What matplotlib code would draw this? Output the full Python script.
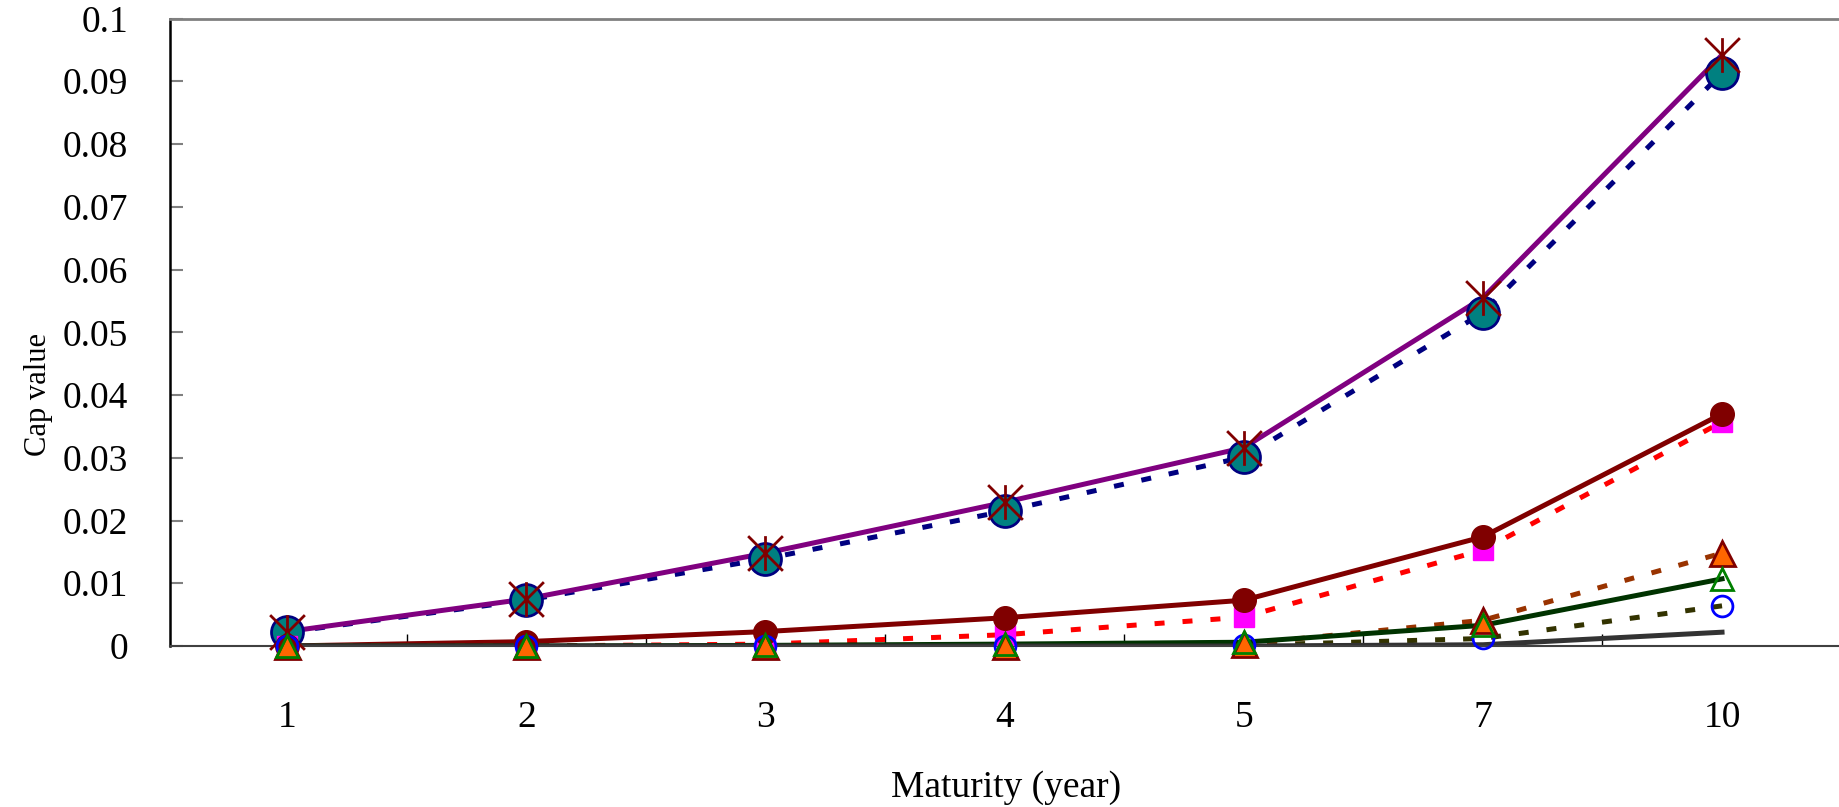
import matplotlib
matplotlib.use('Agg')
import matplotlib.pyplot as plt
import numpy as np
from matplotlib.path import Path

plt.rcParams.update({'font.family': 'Liberation Serif', 'font.size': 27})

# maturities (years) shown as evenly spaced categories
maturity = ['1', '2', '3', '4', '5', '7', '10']
yticks = [0, 0.01, 0.02, 0.03, 0.04, 0.05, 0.06, 0.07, 0.08, 0.09, 0.1]
ytick_labels = ['0', '0.01', '0.02', '0.03', '0.04', '0.05', '0.06', '0.07', '0.08', '0.09', '0.1']

cap_star = [0.0023, 0.0075, 0.0148, 0.0229, 0.0316, 0.0555, 0.0942]
cap_teal = [0.0022, 0.0073, 0.0139, 0.0215, 0.0301, 0.0531, 0.0913]
cap_dred = [0.0000, 0.0007, 0.0023, 0.0045, 0.0073, 0.0174, 0.0370]
cap_red = [0.0000, 0.0000, 0.0003, 0.0018, 0.0046, 0.0153, 0.0357]
cap_orange = [0.0000, 0.0000, 0.0000, 0.0000, 0.0003, 0.0041, 0.0148]
cap_green = [0.0000, 0.0000, 0.0001, 0.0003, 0.0006, 0.0033, 0.0107]
cap_blue = [0.0000, 0.0000, 0.0000, 0.0000, 0.0001, 0.0012, 0.0064]
cap_gray = [0.0000, 0.0000, 0.0000, 0.0000, 0.0000, 0.0002, 0.0022]

x = np.arange(len(maturity))

# X with a vertical bar through it
star = Path([(-1, -1), (1, 1), (-1, 1), (1, -1), (0, -1), (0, 1)],
            [Path.MOVETO, Path.LINETO, Path.MOVETO, Path.LINETO, Path.MOVETO, Path.LINETO])

fig = plt.figure(figsize=(18.39, 8.07), dpi=100)
ax = fig.add_axes([170 / 1839, 1 - 646 / 807, 1671.6 / 1839, 627.5 / 807])

dash = dict(ls=(0, (2.0, 3.6)), dash_capstyle='butt')
lw = 3.6
ax.plot(x, cap_teal, color='#000080', lw=lw, **dash, zorder=2)
ax.plot(x, cap_star, color='#800080', lw=lw, zorder=2)
ax.plot(x, cap_red, color='#FF0000', lw=lw, **dash, zorder=2)
ax.plot(x, cap_dred, color='#800000', lw=lw, zorder=2)
ax.plot(x, cap_blue, color='#333300', lw=lw, **dash, zorder=2)
ax.plot(x, cap_orange, color='#993300', lw=lw, **dash, zorder=2)
ax.plot(x, cap_green, color='#003300', lw=lw, zorder=2)
ax.plot(x, cap_gray, color='#333333', lw=lw, zorder=2)

ax.plot(x, cap_teal, ls='none', marker='o', ms=23, mfc='#008080', mec='#000080', mew=2, zorder=3, clip_on=False)
ax.plot(x, cap_star, ls='none', marker=star, ms=25, mfc='none', mec='#800000', mew=2, zorder=3, clip_on=False)
ax.plot(x, cap_red, ls='none', marker='s', ms=14, mfc='#FF00FF', mec='#FF00FF', mew=1, zorder=3, clip_on=False)
ax.plot(x, cap_dred, ls='none', marker='o', ms=17, mfc='#800000', mec='#800000', mew=1, zorder=3, clip_on=False)
ax.plot(x, cap_blue, ls='none', marker='o', ms=15, mfc='none', mec='#0000FF', mew=2, zorder=3, clip_on=False)
ax.plot(x, cap_orange, ls='none', marker='^', ms=18, mfc='#FF6600', mec='#800000', mew=2, zorder=3, clip_on=False)
ax.plot(x, cap_green, ls='none', marker='^', ms=16, mfc='none', mec='#008000', mew=2, zorder=3, clip_on=False)

ax.set_xlim(-0.49, 6.5)
ax.set_ylim(0, 0.1)
ax.set_xticks(x)
ax.set_xticklabels(maturity)
ax.set_xticks(np.arange(0.5, 6, 1), minor=True)
ax.set_yticks(yticks)
ax.set_yticklabels(ytick_labels)

ax.tick_params(axis='x', which='major', length=0, pad=39)
ax.tick_params(axis='x', which='minor', direction='in', length=9, width=1, color='black')
ax.tick_params(axis='y', direction='in', length=9, width=1.5, color='#808080', pad=30)

ax.spines['right'].set_visible(False)
ax.spines['top'].set_color('#808080')
ax.spines['top'].set_linewidth(2)
ax.spines['left'].set_color('black')
ax.spines['left'].set_linewidth(1.8)
ax.spines['bottom'].set_color('#404040')
ax.spines['bottom'].set_linewidth(1.5)

ax.set_xlabel('Maturity (year)', labelpad=26)
ax.set_ylabel('Cap value', fontsize=22)
ax.yaxis.set_label_coords(-0.070, 0.40)

fig.savefig('out.png', dpi=100)
